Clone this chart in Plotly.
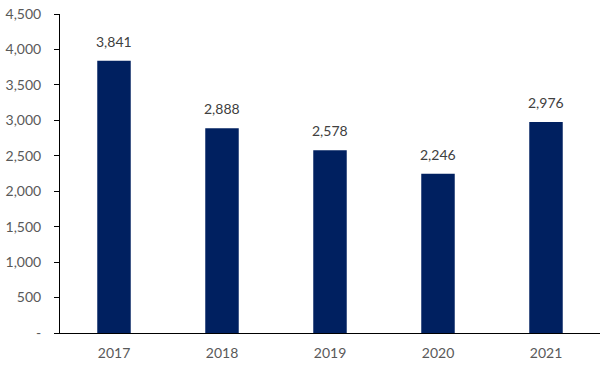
import plotly.graph_objects as go

years = ["2017", "2018", "2019", "2020", "2021"]
values = [3841, 2888, 2578, 2246, 2976]
tick_vals = [0, 500, 1000, 1500, 2000, 2500, 3000, 3500, 4000, 4500]
tick_text = ["-", "500", "1,000", "1,500", "2,000", "2,500", "3,000", "3,500", "4,000", "4,500"]

fig = go.Figure(go.Bar(x=years, y=values, marker=dict(color="#002060", line=dict(width=0))))

for i, v in enumerate(values):
    fig.add_annotation(x=i, y=v, xref="x", yref="y", text=f"{v:,}", showarrow=False,
                       yanchor="bottom", yshift=9,
                       font=dict(size=14, color="#404040", family="Lato"))

fig.update_layout(
    width=609, height=365,
    margin=dict(l=60, r=9, t=14, b=32, autoexpand=False),
    plot_bgcolor="white", paper_bgcolor="white",
    font=dict(family="Lato", size=14, color="#595959"),
    showlegend=False,
    bargap=0.69,
    xaxis=dict(type="category", showline=True, linecolor="black", linewidth=1, ticks="",
               showgrid=False, automargin=False, ticklabelstandoff=7),
    yaxis=dict(range=[0, 4500], tickvals=tick_vals, ticktext=tick_text,
               showline=True, linecolor="black", linewidth=1, ticks="outside", ticklen=5,
               tickcolor="black", showgrid=False, zeroline=False, automargin=False,
               ticklabelstandoff=10),
)
fig.write_html("out.html", config={"displayModeBar": False},
               post_script="document.body.style.margin='0';")
